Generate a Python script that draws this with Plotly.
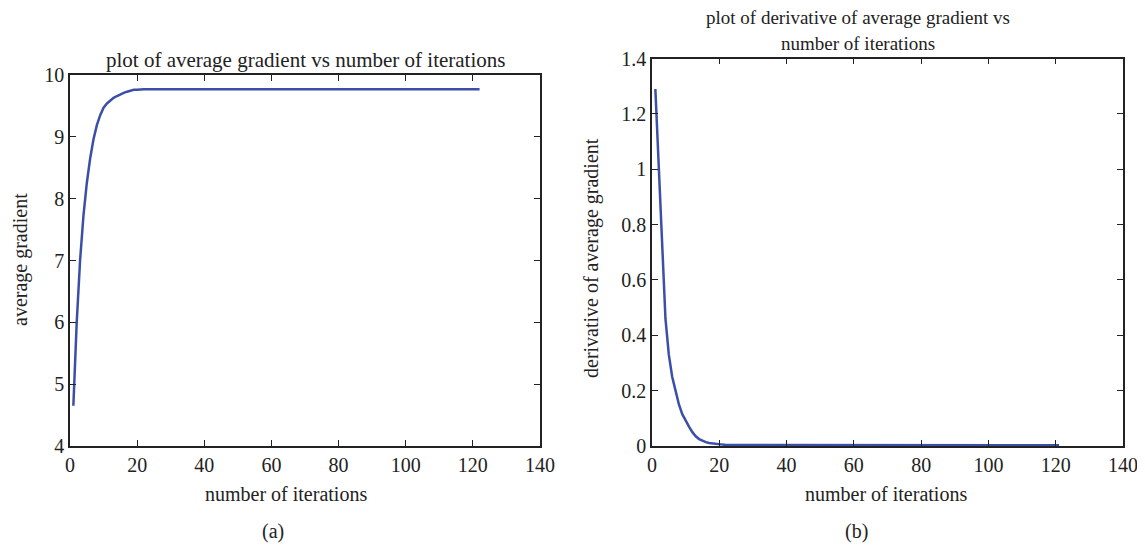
import plotly.graph_objects as go

# ---- data ----
iter_a = [1, 2, 3, 4, 5, 6, 7, 8, 9, 10, 11, 12, 13, 14, 15, 16, 17, 18, 19, 20,
          21, 22, 23, 24, 30, 40, 50, 60, 70, 80, 90, 100, 110, 122]
avg_grad = [4.65, 6.00, 7.00, 7.72, 8.25, 8.65, 8.96, 9.19, 9.35, 9.47, 9.54, 9.59,
            9.63, 9.66, 9.69, 9.71, 9.73, 9.75, 9.76, 9.76, 9.77, 9.77, 9.77, 9.77,
            9.77, 9.77, 9.77, 9.77, 9.77, 9.77, 9.77, 9.77, 9.77, 9.77]

iter_b = [1, 2, 3, 4, 5, 6, 7, 8, 9, 10, 11, 12, 13, 14, 15, 16, 17, 18, 19, 20,
          21, 22, 23, 24, 30, 40, 50, 60, 70, 80, 90, 100, 110, 121]
deriv = [1.29, 1.00, 0.69, 0.46, 0.33, 0.25, 0.20, 0.15, 0.115, 0.09, 0.07, 0.05,
         0.035, 0.025, 0.018, 0.014, 0.011, 0.009, 0.007, 0.006, 0.005, 0.004, 0.004,
         0.003, 0.003, 0.003, 0.003, 0.003, 0.003, 0.003, 0.003, 0.003, 0.003, 0.003]

x_ticks = [0, 20, 40, 60, 80, 100, 120, 140]
ya_ticks = [4, 5, 6, 7, 8, 9, 10]
yb_ticks = [0, 0.2, 0.4, 0.6, 0.8, 1.0, 1.2, 1.4]

OFF = 8  # page body margin
W, H = 1145 - OFF, 546 - OFF
FONT = "Liberation Serif"
LINE = "#3b4fa8"

def px(x):
    return (x - OFF) / W

def py(y):
    return (H - (y - OFF)) / H

fig = go.Figure()
fig.add_trace(go.Scatter(x=iter_a, y=avg_grad, mode="lines",
                         line=dict(color=LINE, width=2.5), xaxis="x", yaxis="y",
                         showlegend=False))
fig.add_trace(go.Scatter(x=iter_b, y=deriv, mode="lines",
                         line=dict(color=LINE, width=2.5), xaxis="x2", yaxis="y2",
                         showlegend=False))

axis_common = dict(showgrid=False, zeroline=False, showline=True, linecolor="#222",
                   linewidth=1.5, mirror="ticks", ticks="inside", ticklen=6,
                   tickcolor="#222", tickwidth=1, automargin=False,
                   tickfont=dict(family=FONT, size=20, color="#222"))

fig.update_layout(
    width=W, height=H, paper_bgcolor="white", plot_bgcolor="white",
    margin=dict(l=0, r=0, t=0, b=0),
    font=dict(family=FONT, size=20, color="#222"),
    xaxis=dict(domain=[px(70), px(540)], range=[0, 140], tickvals=x_ticks,
               anchor="y", **axis_common),
    yaxis=dict(domain=[py(446), py(75)], range=[4, 10], tickvals=ya_ticks,
               anchor="x", **axis_common),
    xaxis2=dict(domain=[px(652), px(1123)], range=[0, 140], tickvals=x_ticks,
                anchor="y2", **axis_common),
    yaxis2=dict(domain=[py(446), py(58.5)], range=[0, 1.4], tickvals=yb_ticks,
                anchor="x2", **axis_common),
)

ann = [
    dict(text="plot of average gradient vs number of iterations", x=px(305), y=py(60), size=21),
    dict(text="plot of derivative of average gradient vs", x=px(858), y=py(18), size=19),
    dict(text="number of iterations", x=px(858), y=py(43), size=19),
    dict(text="number of iterations", x=px(286), y=py(494), size=20),
    dict(text="number of iterations", x=px(886), y=py(494), size=20),
    dict(text="(a)", x=px(273), y=py(531), size=20),
    dict(text="(b)", x=px(856), y=py(531), size=20),
    dict(text="average gradient", x=px(21), y=py(260), textangle=-90, size=20),
    dict(text="derivative of average gradient", x=px(591), y=py(258), textangle=-90, size=20),
]
for a in ann:
    size = a.pop("size")
    fig.add_annotation(xref="paper", yref="paper", showarrow=False,
                       xanchor="center", yanchor="middle",
                       font=dict(family=FONT, size=size, color="#222"), **a)

fig.write_html("out.html")
